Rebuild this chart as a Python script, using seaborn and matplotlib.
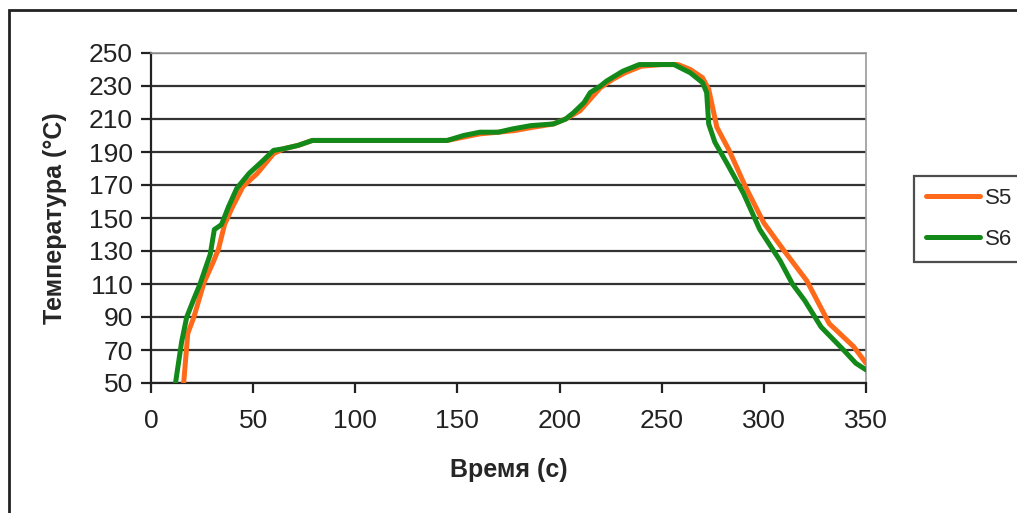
import numpy as np
import pandas as pd
import matplotlib
matplotlib.use("Agg")
import matplotlib.pyplot as plt
import seaborn as sns
from matplotlib.patches import Rectangle

# S5 (orange) readings: time (s), temperature (C)
s5_time = [16, 18, 21, 26, 30, 33, 36, 40, 45, 52, 60, 65, 72, 79, 100, 120, 145,
           153, 161, 170, 178, 187, 197, 203, 210, 215, 220, 226, 232, 240, 250,
           258, 264, 270, 273, 277, 283, 291, 300, 310, 321, 332, 344, 350]
s5_temp = [50, 80, 90, 111, 122, 131, 146, 157, 169, 177, 189, 192, 194, 197, 197, 197, 197,
           199, 201, 202, 203, 205, 207, 210, 215, 222, 229, 234, 238, 242, 243,
           243, 240, 235, 228, 205, 191, 169, 147, 130, 112, 86, 72, 62]

# S6 (green) readings
s6_time = [12, 15, 17.5, 21, 24, 29, 31, 34.5, 38, 42, 48, 55, 60, 65, 72, 79, 100, 120,
           145, 153, 161, 170, 177, 186, 197, 203, 207, 212, 215, 220, 223, 231, 239,
           250, 256, 264, 270, 272, 273, 276, 282, 290, 298, 308, 314, 320, 328, 339,
           345, 350]
s6_temp = [50, 75, 90, 101, 110, 128, 143, 146, 157, 168, 177, 185, 191, 192, 194, 197, 197, 197,
           197, 200, 202, 202, 204, 206, 207, 210, 214, 220, 226, 230, 233, 239, 243,
           243, 243, 238, 232, 226, 207, 196, 183, 165, 143, 124, 110, 100, 84, 70,
           62, 58]

x_ticks = list(range(0, 351, 50))
y_ticks = list(range(50, 251, 20))

sns.set_style("white")
plt.rcParams["font.family"] = ["Liberation Sans", "DejaVu Sans"]

df5 = pd.DataFrame({"t": s5_time, "T": s5_temp})
df6 = pd.DataFrame({"t": s6_time, "T": s6_temp})

fig = plt.figure(figsize=(10.17, 5.13), dpi=100)
ax = fig.add_axes([151 / 1017, 1 - 383 / 513, 715 / 1017, 330 / 513])

# outer chart frame (right/bottom edges run off the image)
fig.patches.append(Rectangle((9 / 1017, -0.1), 1.2, 1 - 10 / 513 + 0.1,
                             transform=fig.transFigure, fill=False,
                             edgecolor="#222222", linewidth=2))

for yv in y_ticks:
    ax.axhline(yv, color="#333333", linewidth=1.6, zorder=1)

sns.lineplot(data=df5, x="t", y="T", sort=False, ax=ax, color="#FF6A1A",
             linewidth=3.6, label="S5", zorder=3)
sns.lineplot(data=df6, x="t", y="T", sort=False, ax=ax, color="#13891A",
             linewidth=3.6, label="S6", zorder=4)

ax.set_xlim(0, 350)
ax.set_ylim(50, 250)
ax.set_xticks(x_ticks)
ax.set_yticks(y_ticks)
ax.tick_params(axis="both", direction="out", length=7, width=1.6, color="#222222",
               labelsize=19, labelcolor="#222222", pad=6, left=True, bottom=True)
ax.tick_params(axis="x", pad=12)

for side in ["left", "bottom"]:
    ax.spines[side].set_color("#222222")
    ax.spines[side].set_linewidth(1.6)
for side in ["top", "right"]:
    ax.spines[side].set_color("#999999")
    ax.spines[side].set_linewidth(1.2)

ax.set_xlabel("Время (с)", fontsize=18, fontweight="bold", labelpad=18)
ax.set_ylabel("Температура (°C)", fontsize=18, fontweight="bold", labelpad=16)

leg = ax.legend(loc="upper left", bbox_to_anchor=(914 / 1017, 1 - 176 / 513),
                bbox_transform=fig.transFigure, fontsize=16, frameon=True,
                fancybox=False, handlelength=2.4, handletextpad=0.25,
                labelspacing=0.9, borderpad=0.55, borderaxespad=0)
leg.get_frame().set_edgecolor("#222222")
leg.get_frame().set_linewidth(1.6)

fig.savefig("out.png", dpi=100)
